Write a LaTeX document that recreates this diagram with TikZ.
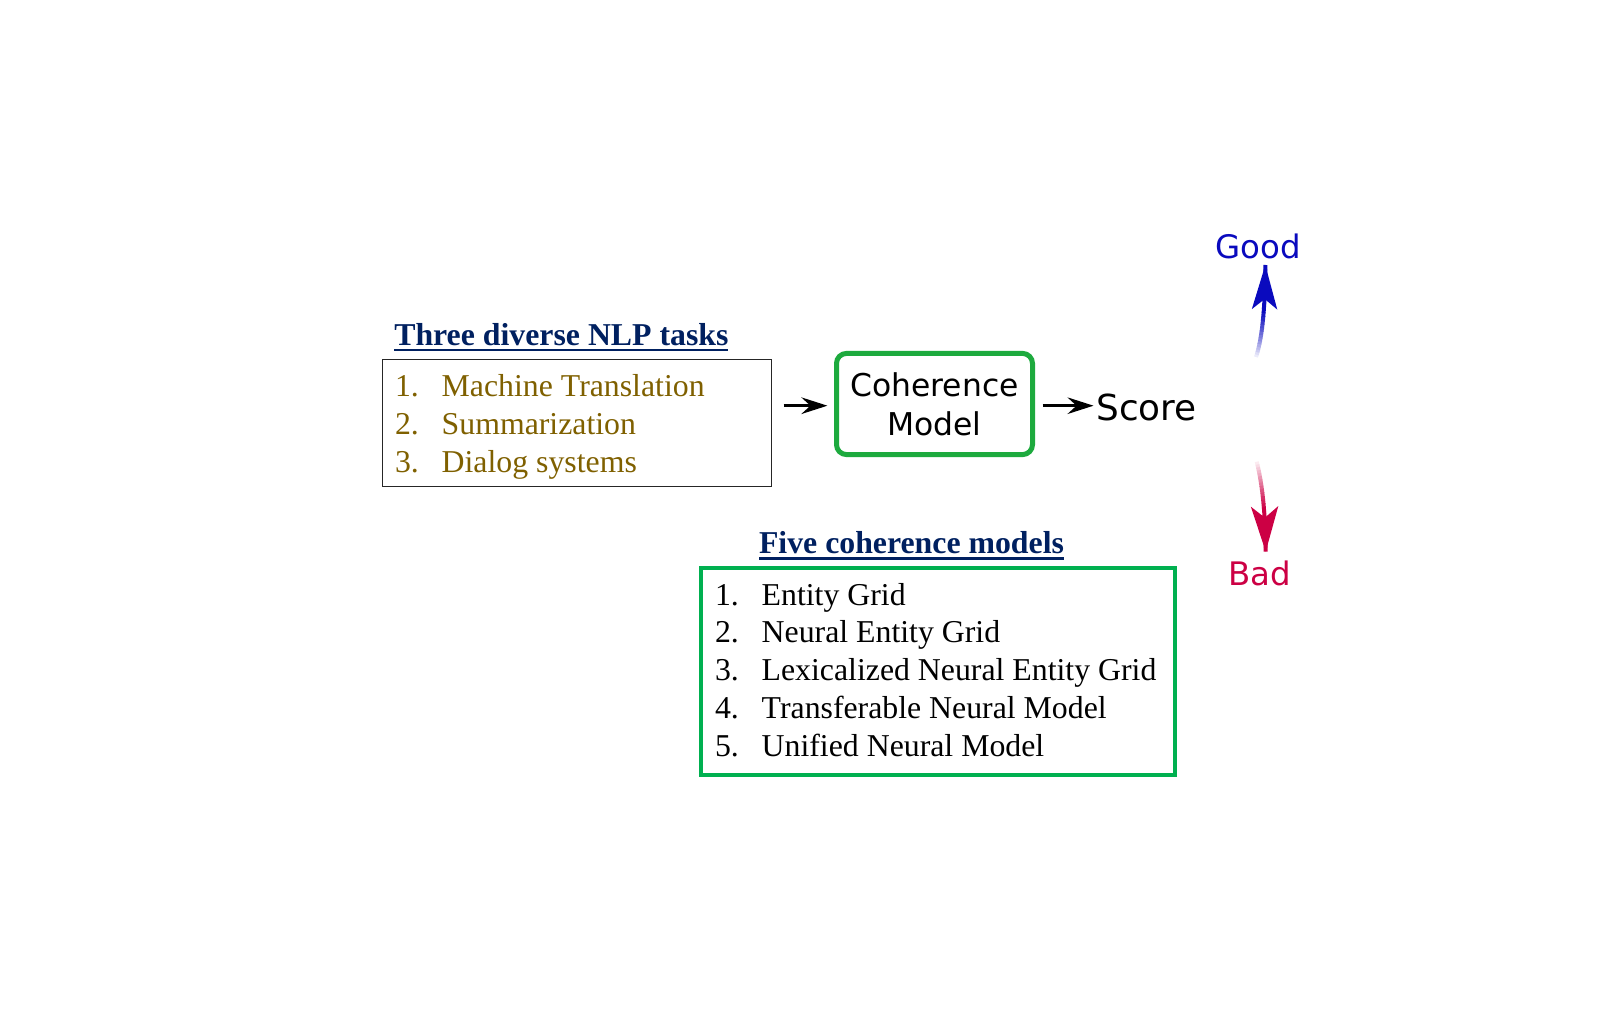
\documentclass[tikz,border=0pt]{standalone}
\usepackage{fontspec}
\setmainfont{Liberation Serif}
\newfontfamily\dejavu{DejaVu Sans}
\usetikzlibrary{arrows.meta}
\definecolor{navy}{HTML}{002060}
\definecolor{olive}{HTML}{7F6000}
\definecolor{boxgreen}{HTML}{00B050}
\definecolor{cmgreen}{HTML}{1DAA3E}
\definecolor{goodblue}{HTML}{0A0ABE}
\definecolor{badred}{HTML}{CC0044}
\begin{document}
\begin{tikzpicture}[x=0.5pt,y=-0.5pt,
  txt/.style={inner sep=0pt, outer sep=0pt},
  listfont/.style={font=\fontsize{15.9pt}{18.95pt}\selectfont},
  headfont/.style={font=\fontsize{15.9pt}{18.95pt}\selectfont\bfseries, text=navy},
  uline/.style={navy, line width=1.1pt},
  flow/.style={line width=1.3pt, -{Stealth[length=13pt,width=8.3pt,inset=4.5pt]}},
  goodtip/.style={-{Stealth[length=22pt,width=12.5pt,inset=5pt]}, line width=2pt},
  badtip/.style={-{Stealth[length=22.5pt,width=13.5pt,inset=5.5pt]}, line width=2pt}
]
\useasboundingbox (0,0) rectangle (1620,1010);

% left box: tasks
\node[draw=black!85, line width=0.6pt, minimum width=194.5pt, minimum height=63.5pt, inner sep=0pt] (tasks) at (577,423) {};
\node[txt, headfont, anchor=base west] (h1) at (394.3,345) {Three diverse NLP tasks};
\draw[uline] ([yshift=-2.6pt]h1.base west) -- ([yshift=-2.6pt]h1.base east);
\node[txt, listfont, text=olive, anchor=base west] (tasklist) at (395,396.7)
  {\begin{tabular}[t]{@{}p{23.35pt}@{}l@{}}1.&Machine Translation\\2.&Summarization\\3.&Dialog systems\end{tabular}};

% coherence model
\node[draw=cmgreen, line width=2.5pt, rounded corners=5pt, minimum width=98pt, minimum height=50.6pt, inner sep=0pt,
      align=center, font=\dejavu\fontsize{15.7pt}{19.3pt}\selectfont] (cm) at (934.5,404) {Coherence\\Model};

% score
\node[txt, anchor=base west, font=\dejavu\fontsize{17.9pt}{20pt}\selectfont] (score) at (1096.5,420) {Score};

\coordinate (ay) at (0,405.7);
\draw[flow, shorten <=5.8pt, shorten >=3.3pt] (tasks.east |- ay) -- (cm.west |- ay);
\draw[flow, shorten <=3.75pt, shorten >=1.5pt] (cm.east |- ay) -- (score.west |- ay);

% models box
\node[draw=boxgreen, line width=2pt, minimum width=237.2pt, minimum height=103.3pt, inner sep=0pt] (models) at (938.2,671.4) {};
\node[txt, headfont, anchor=base west] (h2) at (759,553.3) {Five coherence models};
\draw[uline] ([yshift=-2.6pt]h2.base west) -- ([yshift=-2.6pt]h2.base east);
\node[txt, listfont, anchor=base west] (modellist) at (715,605)
  {\begin{tabular}[t]{@{}p{23.35pt}@{}l@{}}1.&Entity Grid\\2.&Neural Entity Grid\\3.&Lexicalized Neural Entity Grid\\4.&Transferable Neural Model\\5.&Unified Neural Model\end{tabular}};

% Good / Bad
\node[txt, anchor=base, text=goodblue, font=\dejavu\fontsize{16.2pt}{19pt}\selectfont] (good) at (1258.3,258.3) {Good};
\node[txt, anchor=base, text=badred, font=\dejavu\fontsize{16.2pt}{19pt}\selectfont] (bad) at (1260,585) {Bad};

\coordinate (gs) at (1256,357);
\coordinate (gc1) at (1262,339);
\coordinate (gc2) at (1265.2,309);
\coordinate (ge) at (1265.3,265);
\coordinate (bs) at (1256.7,461.7);
\coordinate (bc1) at (1262.2,483.9);
\coordinate (bc2) at (1265.3,511);
\coordinate (be) at (1265.7,551.7);

\foreach \i in {0,...,23} {
  \pgfmathsetmacro\a{\i/24}
  \pgfmathsetmacro\b{min(1,(\i+1.15)/24)}
  \pgfmathtruncatemacro\pct{min(100,8+160*\a)}
  \path (gs) .. controls (gc1) and (gc2) .. (ge) coordinate[pos=\a] (gp) coordinate[pos=\b] (gq);
  \draw[goodblue!\pct!white, line width=2pt] (gp) -- (gq);
  \path (bs) .. controls (bc1) and (bc2) .. (be) coordinate[pos=\a] (bp) coordinate[pos=\b] (bq);
  \draw[badred!\pct!white, line width=2pt] (bp) -- (bq);
}
\path (gs) .. controls (gc1) and (gc2) .. (ge) coordinate[pos=0.8] (gpre);
\path (bs) .. controls (bc1) and (bc2) .. (be) coordinate[pos=0.8] (bpre);
\draw[goodtip, goodblue] (gpre) -- (ge);
\draw[badtip, badred] (bpre) -- (be);
\end{tikzpicture}
\end{document}
